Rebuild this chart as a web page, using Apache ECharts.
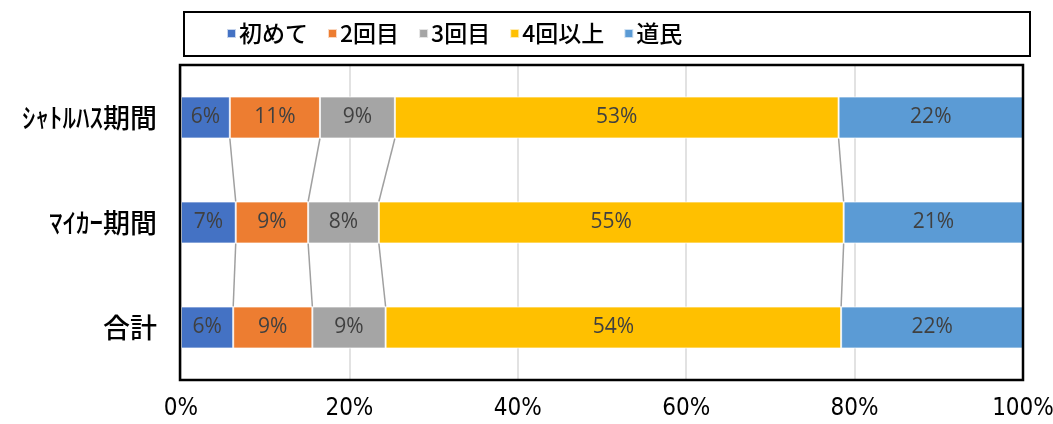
<!DOCTYPE html>
<html><head><meta charset="utf-8">
<script src="https://cdn.jsdelivr.net/npm/echarts@6/dist/echarts.min.js"></script>
<style>html,body{margin:0;padding:0;background:#fff}#c{width:1053px;height:424px}</style>
</head><body><div id="c"></div>
<script>
const categories = ['ｼｬﾄﾙﾊｽ期間', 'ﾏｲｶｰ期間', '合計'];
const seriesNames = ['初めて', '2回目', '3回目', '4回以上', '道民'];
const first = [5.8, 6.5, 6.2];
const second = [10.7, 8.6, 9.4];
const third = [8.9, 8.4, 8.7];
const fourthPlus = [52.7, 55.2, 54.1];
const resident = [21.9, 21.3, 21.6];
const xTicks = [0, 20, 40, 60, 80, 100];
const colors = ['#4472C4', '#ED7D31', '#A5A5A5', '#FFC000', '#5B9BD5'];

const values = [first, second, third, fourthPlus, resident];
const cum = categories.map((c, i) => { let s = 0; return values.map(v => (s += v[i])); });
const lineData = [];
for (let i = 0; i < categories.length - 1; i++) {
  for (let k = 0; k < values.length; k++) lineData.push([cum[i][k], i, cum[i + 1][k], i + 1]);
}
const BAR_RATIO = 0.4;
const G = { left: 181, right: 30, top: 65, bottom: 44 };
const chart = echarts.init(document.getElementById('c'));
const barSeries = seriesNames.map((n, j) => ({
  name: n, type: 'bar', stack: 'all', data: values[j],
  barCategoryGap: '60%',
  itemStyle: { color: colors[j], borderColor: 'rgba(255,255,255,0.7)', borderWidth: 1 },
  label: { show: true, position: 'inside', color: '#404040', fontSize: 21, fontFamily: "'Open Sans', sans-serif",
    formatter: p => Math.round(p.value) + '%' },
  z: 3
}));
chart.setOption({
  animation: false,
  color: colors,
  graphic: [
    { type: 'rect', shape: { x: 184, y: 12, width: 846, height: 44 }, style: { fill: 'none', stroke: '#000', lineWidth: 2 }, z: 0 },
    { type: 'rect', shape: { x: G.left - 1, y: G.top, width: 1053 - G.left - G.right + 1, height: 424 - G.top - G.bottom }, style: { fill: 'none', stroke: '#000', lineWidth: 2.5 }, z: 10 }
  ],
  legend: {
    left: 221, top: 17, itemWidth: 9, itemHeight: 9, itemGap: 19,
    icon: 'rect', data: seriesNames,
    textStyle: { fontSize: 23, fontWeight: 500, color: '#000', fontFamily: "'Noto Sans CJK JP', sans-serif", padding: [0, 0, 0, -2] }
  },
  grid: { left: G.left, right: G.right, top: G.top, bottom: G.bottom, show: false, containLabel: false, outerBoundsMode: 'none' },
  xAxis: {
    type: 'value', min: 0, max: 100, interval: 20,
    axisLine: { show: false }, axisTick: { show: false },
    splitLine: { lineStyle: { color: '#d9d9d9', width: 1.5 } },
    axisLabel: { margin: 17, fontSize: 24, color: '#000', fontFamily: "'Liberation Sans Narrow', 'DejaVu Sans Condensed', 'Liberation Sans', sans-serif",
      formatter: v => xTicks.includes(v) ? v + '%' : '' }
  },
  yAxis: {
    type: 'category', data: categories, inverse: true,
    axisLine: { show: false }, axisTick: { show: false },
    axisLabel: { margin: 24, fontSize: 27, fontWeight: 500, color: '#000', fontFamily: "'Noto Sans CJK JP', sans-serif" }
  },
  series: barSeries.concat([{
    type: 'custom', name: 'series-lines', data: lineData, encode: { x: [0, 2], y: [1, 3] },
    silent: true, z: 2,
    renderItem: (params, api) => {
      const p0 = api.coord([api.value(0), api.value(1)]);
      const p1 = api.coord([api.value(2), api.value(3)]);
      const h = api.size([0, 1])[1] * BAR_RATIO / 2;
      return { type: 'line', shape: { x1: p0[0], y1: p0[1] + h, x2: p1[0], y2: p1[1] - h },
        style: { stroke: '#a0a0a0', lineWidth: 1.5 } };
    }
  }])
});
</script></body></html>
